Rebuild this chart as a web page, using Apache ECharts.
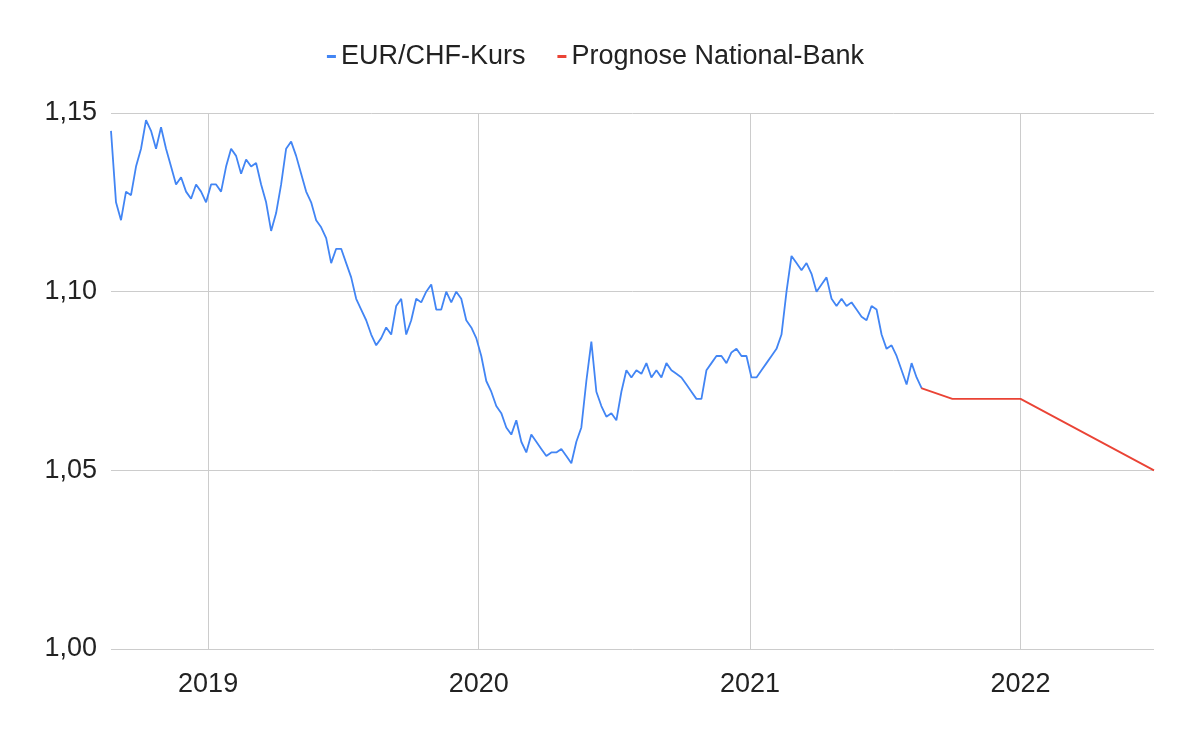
<!DOCTYPE html>
<html><head><meta charset="utf-8">
<script src="https://cdn.jsdelivr.net/npm/echarts@6/dist/echarts.min.js"></script>
<style>html,body{margin:0;padding:0;background:#fff}#c{width:1191px;height:736px}</style>
</head><body><div id="c"></div>
<script>
const startDate = '2018-08-23';
const stepDays = 6.75;
const kursValues = [1.145,1.125,1.120,1.128,1.127,1.135,1.140,1.148,1.145,1.140,1.146,1.140,1.135,1.130,1.132,1.128,1.126,1.130,1.128,1.125,
1.130,1.130,1.128,1.135,1.140,1.138,1.133,1.137,1.135,1.136,1.130,1.125,1.117,1.122,1.130,1.140,1.142,1.138,1.133,1.128,
1.125,1.120,1.118,1.115,1.108,1.112,1.112,1.108,1.104,1.098,1.095,1.092,1.088,1.085,1.087,1.090,1.088,1.096,1.098,1.088,
1.092,1.098,1.097,1.100,1.102,1.095,1.095,1.100,1.097,1.100,1.098,1.092,1.090,1.087,1.082,1.075,1.072,1.068,1.066,1.062,
1.060,1.064,1.058,1.055,1.060,1.058,1.056,1.054,1.055,1.055,1.056,1.054,1.052,1.058,1.062,1.075,1.086,1.072,1.068,1.065,
1.066,1.064,1.072,1.078,1.076,1.078,1.077,1.080,1.076,1.078,1.076,1.080,1.078,1.077,1.076,1.074,1.072,1.070,1.070,1.078,
1.080,1.082,1.082,1.080,1.083,1.084,1.082,1.082,1.076,1.076,1.078,1.080,1.082,1.084,1.088,1.100,1.110,1.108,1.106,1.108,
1.105,1.100,1.102,1.104,1.098,1.096,1.098,1.096,1.097,1.095,1.093,1.092,1.096,1.095,1.088,1.084,1.085,1.082,1.078,1.074,
1.080,1.076,1.073];
const prognoseDates = ['2021-08-20','2021-10-01','2022-01-01','2022-06-30'];
const prognoseValues = [1.073,1.070,1.070,1.050];
const yearTicks = ['2019','2020','2021','2022'];

const t0 = new Date(startDate).getTime();
const kurs = kursValues.map((v,i)=>[t0 + i*stepDays*86400000, v]);
const prog = prognoseDates.map((d,i)=>[d, prognoseValues[i]]);

const chart = echarts.init(document.getElementById('c'));
chart.setOption({
  animation:false,
  legend:{top:38,left:'center',icon:'rect',itemWidth:9,itemHeight:3,itemGap:32,
    textStyle:{fontFamily:'Liberation Sans, Arial',fontSize:27,color:'#222'}},
  grid:{left:111,right:37,top:113,bottom:87},
  xAxis:{type:'time',min:'2018-08-23',max:'2022-06-30',
    minInterval:365*86400000, maxInterval:366*86400000,
    axisLine:{show:false},axisTick:{show:false},
    splitLine:{show:true,showMinLine:false,showMaxLine:false,lineStyle:{color:'#ccc'}},
    axisLabel:{formatter:function(v){return String(new Date(v).getFullYear());},margin:22,
      fontFamily:'Liberation Sans, Arial',fontSize:27,color:'#222',showMinLabel:false,showMaxLabel:false}},
  yAxis:{type:'value',min:1.00,max:1.15,interval:0.05,
    axisLine:{show:false},axisTick:{show:false},
    splitLine:{lineStyle:{color:'#ccc'}},
    axisLabel:{formatter:v=>v.toFixed(2).replace('.',','),margin:14,
      fontFamily:'Liberation Sans, Arial',fontSize:27,color:'#222'}},
  series:[
    {name:'EUR/CHF-Kurs',type:'line',data:kurs,showSymbol:false,lineStyle:{color:'#4285f4',width:1.8},itemStyle:{color:'#4285f4'}},
    {name:'Prognose National-Bank',type:'line',data:prog,showSymbol:false,lineStyle:{color:'#ea4335',width:1.8},itemStyle:{color:'#ea4335'}}
  ]
});
</script></body></html>
